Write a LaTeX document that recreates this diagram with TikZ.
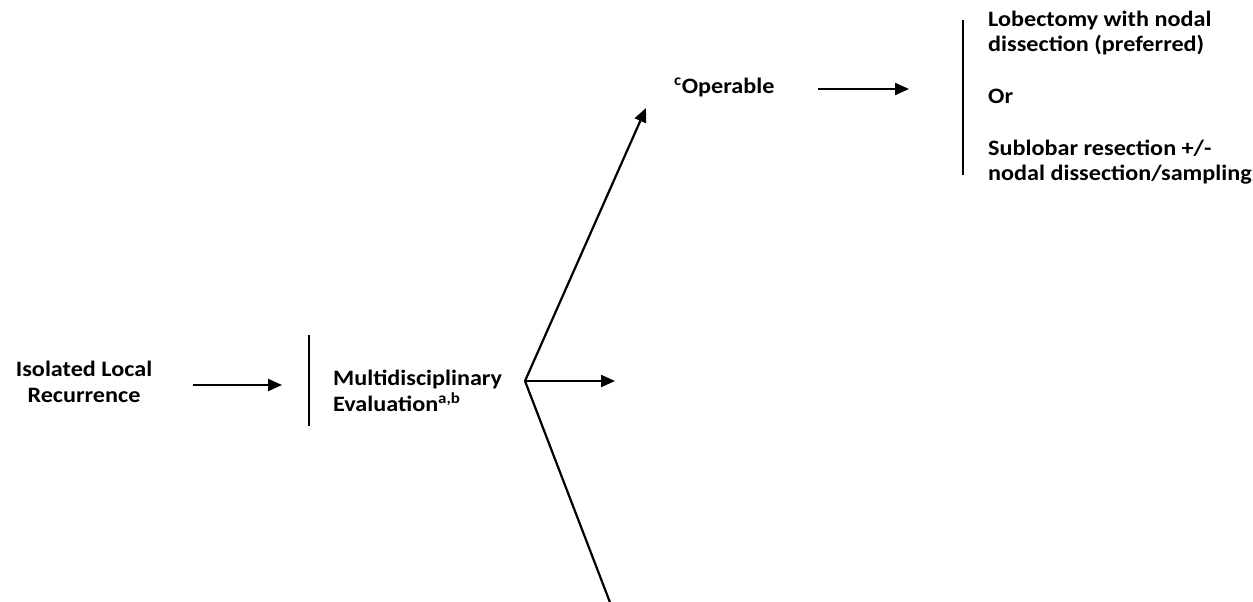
\documentclass[tikz,border=0pt]{standalone}
\usepackage{fontspec}
\setmainfont{Carlito}[FakeStretch=1.1]
\usetikzlibrary{arrows.meta}
\begin{document}
\begin{tikzpicture}[x=1pt,y=-1pt,
  lbl/.style={font=\fontsize{22}{26}\selectfont\bfseries, inner sep=0pt, align=left},
  conn/.style={line width=2.2pt, -{Triangle[length=14pt,width=12pt]}},
  bar/.style={line width=2.2pt}]
\useasboundingbox (0,0) rectangle (1253,602);
\node[lbl, align=center, anchor=base] (iso) at (84,402) {Isolated Local\\Recurrence};
\node[lbl, anchor=base west] (multi) at (333,411) {Multidisciplinary\\Evaluation\textsuperscript{a,b}};
\node[lbl, anchor=base west] (oper) at (674,93) {\textsuperscript{c}Operable};
\node[lbl, anchor=base west, font=\fontsize{22}{25}\selectfont\bfseries] (lob) at (988,180) {Lobectomy with nodal\\dissection (preferred)\\[27pt]Or\\[27pt]Sublobar resection +/-\\nodal dissection/sampling};
% bars
\coordinate (b1t) at (309,335); \coordinate (b1b) at (309,426);
\coordinate (b2t) at (963,20); \coordinate (b2b) at (963,175);
\draw[bar] (b1t) -- (b1b);
\draw[bar] (b2t) -- (b2b);
% connectors
\coordinate (a1s) at (193,385); \coordinate (a1e) at (282,385);
\draw[conn] (a1s) -- (a1e);
\coordinate (br) at (525,381);
\coordinate (upend) at (646,108);
\coordinate (midend) at (615,381);
\coordinate (downend) at (611,605);
\draw[conn] (br) -- (upend);
\draw[conn] (br) -- (midend);
\draw[bar] (br) -- (downend);
\coordinate (a2s) at (818,89); \coordinate (a2e) at (909,89);
\draw[conn] (a2s) -- (a2e);
\end{tikzpicture}
\end{document}
